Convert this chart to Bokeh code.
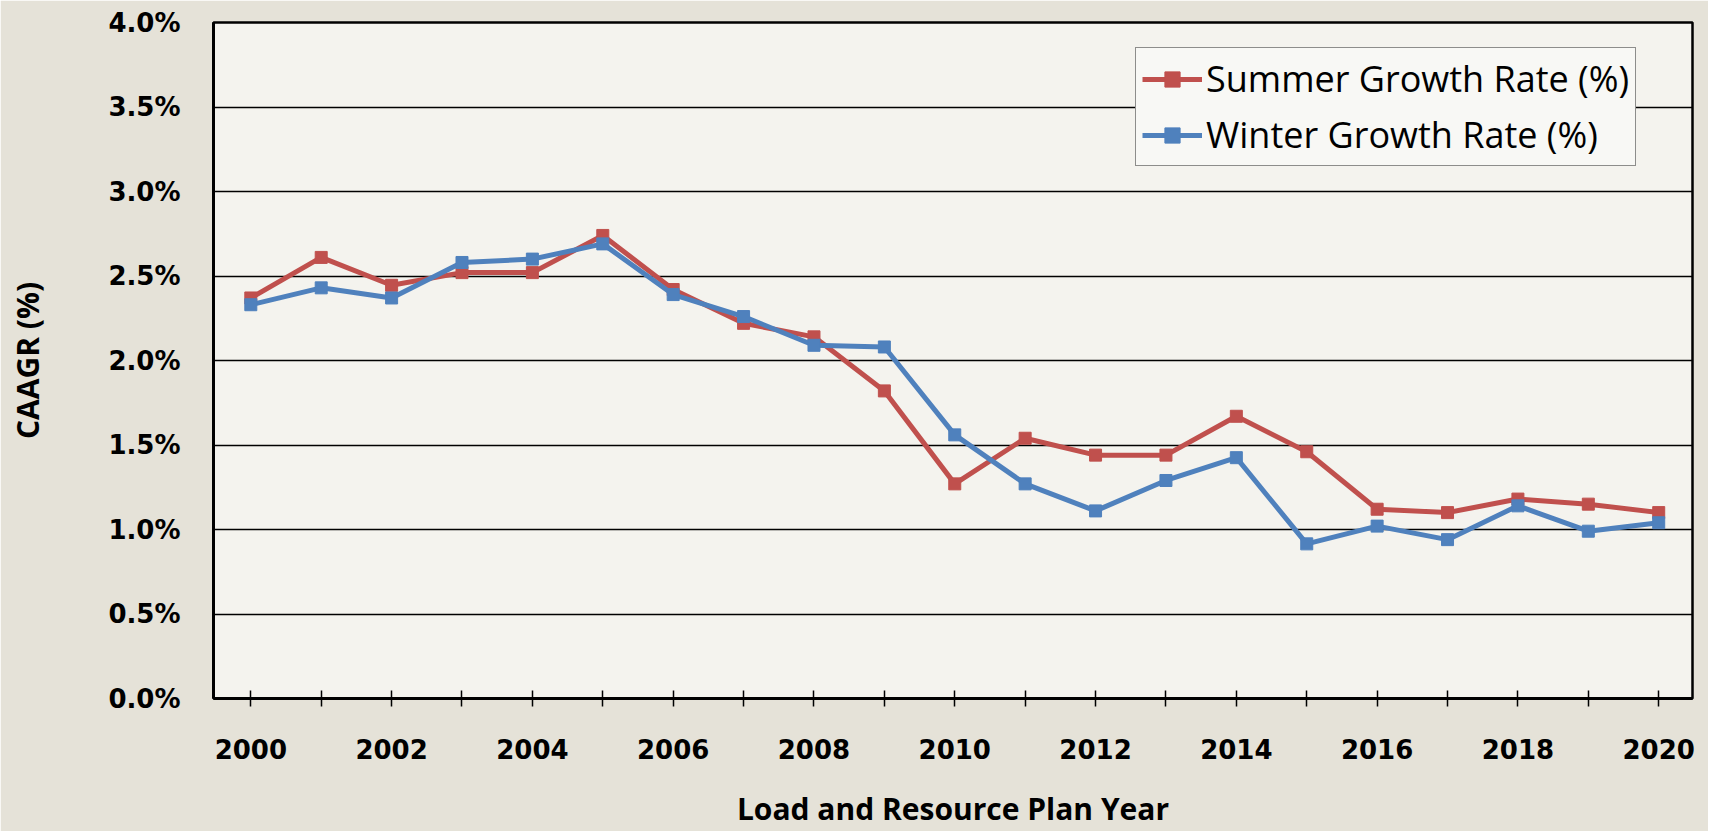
from bokeh.plotting import figure
from bokeh.models import Range1d, FixedTicker, Legend, LegendItem
from bokeh.embed import file_html
from bokeh.resources import INLINE

years = list(range(2000, 2021))
summer = [2.37, 2.61, 2.445, 2.52, 2.52, 2.74, 2.42, 2.22, 2.14, 1.82, 1.27,
          1.54, 1.44, 1.44, 1.67, 1.46, 1.12, 1.10, 1.18, 1.15, 1.10]
winter = [2.33, 2.43, 2.37, 2.58, 2.60, 2.69, 2.39, 2.26, 2.09, 2.08, 1.56,
          1.27, 1.11, 1.29, 1.425, 0.915, 1.02, 0.94, 1.14, 0.99, 1.04]
y_ticks = [0.0, 0.5, 1.0, 1.5, 2.0, 2.5, 3.0, 3.5, 4.0]
x_labels = {y: (str(y) if y % 2 == 0 else "") for y in years}
y_labels = {t: f"{t:.1f}%" for t in y_ticks}

RED = "#C0504D"
BLUE = "#4F81BD"

p = figure(width=1708, height=831, output_backend="svg", toolbar_location=None,
           x_range=Range1d(1999.47, 2020.48), y_range=Range1d(0, 4),
           min_border_left=213, min_border_top=22, min_border_right=16,
           min_border_bottom=129)

p.border_fill_color = "#e5e2d8"
p.background_fill_color = "#f4f3ee"
p.outline_line_color = "black"
p.outline_line_width = 2.5

# grid
p.xgrid.visible = False
p.ygrid.ticker = FixedTicker(ticks=y_ticks)
p.ygrid.grid_line_color = "black"
p.ygrid.grid_line_width = 1.5

# x axis
xa = p.xaxis[0]
xa.ticker = FixedTicker(ticks=years)
xa.major_label_overrides = x_labels
xa.axis_line_color = "black"
xa.axis_line_width = 3
xa.major_tick_in = 8
xa.major_tick_out = 8
xa.major_tick_line_color = "black"
xa.major_tick_line_width = 1.5
xa.minor_tick_line_color = None
xa.major_label_text_font = "DejaVu Sans"
xa.major_label_text_font_style = "bold"
xa.major_label_text_font_size = "26px"
xa.major_label_text_color = "black"
xa.major_label_standoff = 32
xa.axis_label = "Load and Resource Plan Year"
xa.axis_label_text_font = "Open Sans"
xa.axis_label_text_font_style = "bold"
xa.axis_label_text_font_size = "30px"
xa.axis_label_text_color = "black"
xa.axis_label_standoff = 26

# y axis
ya = p.yaxis[0]
ya.ticker = FixedTicker(ticks=y_ticks)
ya.major_label_overrides = y_labels
ya.axis_line_color = "black"
ya.axis_line_width = 3
ya.major_tick_in = 0
ya.major_tick_out = 0
ya.minor_tick_line_color = None
ya.major_label_text_font = "DejaVu Sans"
ya.major_label_text_font_style = "bold"
ya.major_label_text_font_size = "26px"
ya.major_label_text_color = "black"
ya.major_label_standoff = 33
ya.axis_label = "CAAGR (%)"
ya.axis_label_text_font = "Open Sans"
ya.axis_label_text_font_style = "bold"
ya.axis_label_text_font_size = "30px"
ya.axis_label_text_color = "black"
ya.axis_label_standoff = 57

# series
rl = p.line(years, summer, line_color=RED, line_width=5)
rs = p.scatter(years, summer, marker="square", size=12, fill_color=RED, line_color=RED)
bl = p.line(years, winter, line_color=BLUE, line_width=5)
bs = p.scatter(years, winter, marker="square", size=12, fill_color=BLUE, line_color=BLUE)

legend = Legend(items=[LegendItem(label="Summer Growth Rate (%)", renderers=[rl, rs]),
                       LegendItem(label="Winter Growth Rate (%)", renderers=[bl, bs])],
                location=(922, 532), orientation="vertical")
legend.label_text_font = "Open Sans"
legend.label_text_font_size = "36px"
legend.label_text_color = "black"
legend.label_standoff = 4
legend.glyph_width = 60
legend.glyph_height = 38
legend.label_height = 38
legend.spacing = 7
legend.padding = 6
legend.margin = 0
legend.background_fill_color = "#f8f8f5"
legend.background_fill_alpha = 1.0
legend.border_line_color = "#222222"
legend.border_line_width = 1.5
p.add_layout(legend, "center")

open("out.html", "w").write(file_html(p, INLINE))
